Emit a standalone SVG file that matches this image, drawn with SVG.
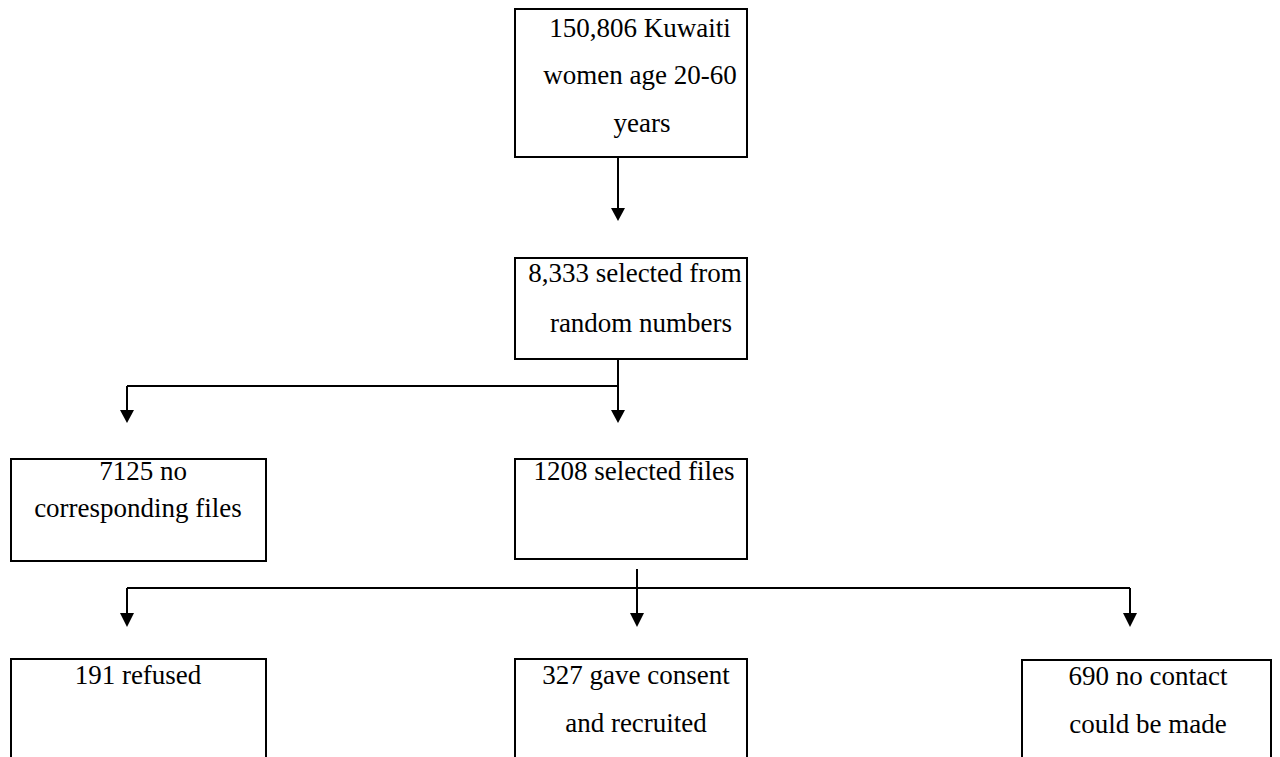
<svg xmlns="http://www.w3.org/2000/svg" width="1280" height="757" viewBox="0 0 1280 757">
<defs>
<style>
.box{fill:#fff;stroke:#000;stroke-width:2}
.t{font-family:"Liberation Serif","Times New Roman",serif;font-size:27px;fill:#000;text-anchor:middle}
.ln{fill:none;stroke:#000;stroke-width:2}
.ah{fill:#000;stroke:none}
</style>
</defs>
<rect width="1280" height="757" fill="#fff"/>
<g id="connectors">
<path class="ln" d="M618,158 V210"/>
<path class="ah" d="M611,208 L625,208 L618,221 Z"/>
<path class="ln" d="M618,359 V412 M127,386 H618 M127,386 V412"/>
<path class="ah" d="M120,410 L134,410 L127,423 Z"/>
<path class="ah" d="M611,410 L625,410 L618,423 Z"/>
<path class="ln" d="M637,569 V615 M127,588 H1130 M127,588 V615 M1130,588 V615"/>
<path class="ah" d="M120,613 L134,613 L127,627 Z"/>
<path class="ah" d="M630,613 L644,613 L637,627 Z"/>
<path class="ah" d="M1123,613 L1137,613 L1130,627 Z"/>
</g>
<g id="n1">
<rect class="box" x="515" y="9" width="232" height="148"/>
<text class="t" x="640" y="37">150,806 Kuwaiti</text>
<text class="t" x="640" y="84">women age 20-60</text>
<text class="t" x="642" y="132">years</text>
</g>
<g id="n2">
<rect class="box" x="515" y="258" width="232" height="101"/>
<text class="t" x="635" y="282">8,333 selected from</text>
<text class="t" x="641" y="332">random numbers</text>
</g>
<g id="n3">
<rect class="box" x="11" y="459" width="255" height="102"/>
<text class="t" x="143" y="480">7125 no</text>
<text class="t" x="138" y="517">corresponding files</text>
</g>
<g id="n4">
<rect class="box" x="515" y="459" width="232" height="100"/>
<text class="t" x="634" y="480">1208 selected files</text>
</g>
<g id="n5">
<rect class="box" x="11" y="659" width="255" height="120"/>
<text class="t" x="138" y="684">191 refused</text>
</g>
<g id="n6">
<rect class="box" x="515" y="659" width="232" height="120"/>
<text class="t" x="636" y="684">327 gave consent</text>
<text class="t" x="636" y="732">and recruited</text>
</g>
<g id="n7">
<rect class="box" x="1022" y="660" width="249" height="120"/>
<text class="t" x="1148" y="685">690 no contact</text>
<text class="t" x="1148" y="733">could be made</text>
</g>
</svg>
